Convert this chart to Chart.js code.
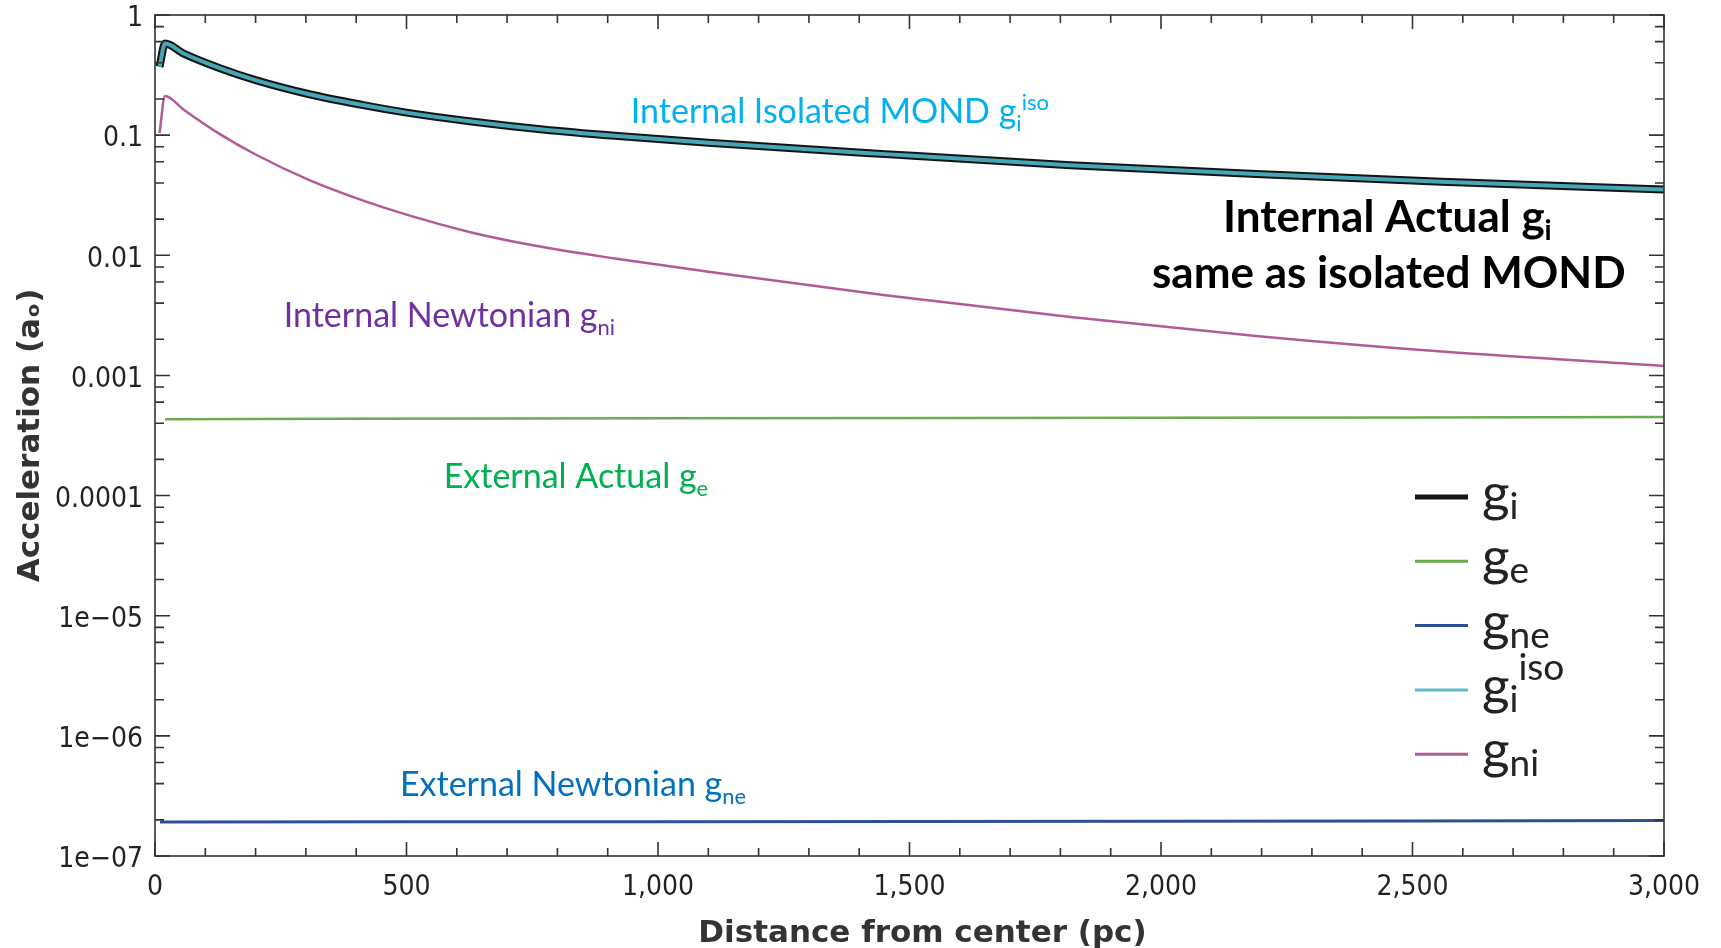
<!DOCTYPE html>
<html>
<head>
  <meta charset="utf-8">
  <title>Internal and external accelerations</title>
  <style>
    body { margin: 0; background: #fff; }
    #wrap { width: 1721px; height: 948px; position: relative; }
  </style>
</head>
<body>
  <div id="wrap"><canvas id="accel_chart"></canvas></div>

  <script src="https://cdn.jsdelivr.net/npm/chart.js@4/dist/chart.umd.min.js"></script>
  <script>
    // internal curves, distance from center in pc
    const distInternal = [9, 20, 57, 129, 200, 307, 414, 500, 629, 771, 914, 1100, 1452, 1820, 2189, 2558, 3000];
    const gInternal = [0.371, 0.578, 0.478, 0.361, 0.287, 0.219, 0.178, 0.154, 0.130, 0.1115, 0.0988, 0.0864, 0.0695, 0.0562, 0.0474, 0.041, 0.0352];
    const gIsolated = [0.371, 0.578, 0.478, 0.361, 0.287, 0.219, 0.178, 0.154, 0.130, 0.1115, 0.0988, 0.0864, 0.0695, 0.0562, 0.0474, 0.041, 0.0352];
    const gNewtonInternal = [0.104, 0.212, 0.163, 0.102, 0.069, 0.0422, 0.0285, 0.0218, 0.0155, 0.0117, 0.0094, 0.0073, 0.00465, 0.00307, 0.00213, 0.00158, 0.0012];

    // external field, nearly flat
    const distExternal = [20, 1000, 2000, 3000];
    const gExternal = [0.000432, 0.00044, 0.000445, 0.00045];
    const distExternalN = [10, 1500, 3000];
    const gNewtonExternal = [1.92e-7, 1.94e-7, 1.97e-7];

    // axes
    const xMajorValues = [0, 500, 1000, 1500, 2000, 2500, 3000];
    const xTickLabels = ["0", "500", "1,000", "1,500", "2,000", "2,500", "3,000"];
    const yMajorValues = [1e-7, 1e-6, 1e-5, 1e-4, 1e-3, 1e-2, 1e-1, 1];
    const yTickLabels = ["1e\u221207", "1e\u221206", "1e\u221205", "0.0001", "0.001", "0.01", "0.1", "1"];
    const yMinorSteps = [2, 4, 6, 8];
    const xTitle = "Distance from center (pc)";
    const yTitle = "Acceleration (a\u2092)";

    // legend text: g with subscript / superscript
    const legendSubs = [["i", ""], ["e", ""], ["ne", ""], ["i", "iso"], ["ni", ""]];

    // text labels placed in data units
    const notes = [
      {text: "Internal Isolated MOND g", sub: "i", sup: "iso", x: 946, y: 0.126, color: "#00b0f0"},
      {text: "Internal Newtonian g", sub: "ni", sup: "", x: 256, y: 0.00251, color: "#7030a0"},
      {text: "External Actual g", sub: "e", sup: "", x: 574, y: 1.16e-4, color: "#00b050"},
      {text: "External Newtonian g", sub: "ne", sup: "", x: 487, y: 3.18e-7, color: "#0070c0"},
      {text: "Internal Actual g", sub: "i", sup: "", x: 2450, y: 0.0156, color: "#000", bold: true},
      {text: "same as isolated MOND", sub: "", sup: "", x: 2453, y: 0.00534, color: "#000", bold: true}
    ];

    const textFont = 'Lato, "Open Sans", sans-serif';
    const tickFont = "'DejaVu Sans Condensed', 'DejaVu Sans', sans-serif";
    const titleFont = "bold 31px 'DejaVu Sans', sans-serif";

    function pairs(xs, ys) {
      return xs.map((v, i) => ({x: v, y: ys[i]}));
    }

    // base text followed by subscript then superscript
    function drawRich(ctx, x, y, text, sub, sup, size, smallSize, subDy, supDy, weight, color, center) {
      ctx.font = weight + " " + size + "px " + textFont;
      const w0 = ctx.measureText(text).width;
      ctx.font = weight + " " + smallSize + "px " + textFont;
      const w1 = sub ? ctx.measureText(sub).width : 0;
      const w2 = sup ? ctx.measureText(sup).width : 0;
      let left = center ? x - (w0 + w1 + w2) / 2 : x;
      ctx.fillStyle = color;
      ctx.textAlign = "left";
      ctx.textBaseline = "alphabetic";
      ctx.font = weight + " " + size + "px " + textFont;
      ctx.fillText(text, left, y);
      ctx.font = weight + " " + smallSize + "px " + textFont;
      if (sub) ctx.fillText(sub, left + w0, y + subDy);
      if (sup) ctx.fillText(sup, left + w0 + w1, y - supDy);
    }

    const isMajorY = (v) => yMajorValues.some(m => Math.abs(Math.log10(v) - Math.log10(m)) < 1e-6);

    // frame with inward ticks on all four sides, plus axis titles
    const frameTicks = {
      id: "frameTicks",
      afterDatasetsDraw(chart) {
        const {ctx, chartArea: a, scales: {x, y}} = chart;
        ctx.save();
        ctx.strokeStyle = "#333";
        ctx.lineWidth = 1.6;
        ctx.strokeRect(a.left, a.top, a.right - a.left, a.bottom - a.top);
        ctx.beginPath();
        x.ticks.forEach(t => {
          const px = x.getPixelForValue(t.value);
          const len = xMajorValues.includes(t.value) ? 14 : 8;
          ctx.moveTo(px, a.bottom); ctx.lineTo(px, a.bottom - len);
          ctx.moveTo(px, a.top); ctx.lineTo(px, a.top + len);
        });
        y.ticks.forEach(t => {
          const py = y.getPixelForValue(t.value);
          const len = isMajorY(t.value) ? 15 : 9;
          ctx.moveTo(a.left, py); ctx.lineTo(a.left + len, py);
          ctx.moveTo(a.right, py); ctx.lineTo(a.right - len, py);
        });
        ctx.stroke();

        ctx.fillStyle = "#333";
        ctx.font = titleFont;
        ctx.textAlign = "center";
        ctx.textBaseline = "middle";
        ctx.fillText(xTitle, (a.left + a.right) / 2 + 13, 934);
        ctx.translate(31, (a.top + a.bottom) / 2);
        ctx.rotate(-Math.PI / 2);
        ctx.fillText(yTitle, 0, 0);
        ctx.restore();
      }
    };

    const annotations = {
      id: "annotations",
      afterDatasetsDraw(chart) {
        const {ctx, scales: {x, y}} = chart;
        ctx.save();
        notes.forEach(n => {
          const px = x.getPixelForValue(n.x);
          const py = y.getPixelForValue(n.y);
          if (n.bold) {
            drawRich(ctx, px, py, n.text, n.sub, n.sup, 44, 28, 8, 16, "bold", n.color, true);
          } else {
            drawRich(ctx, px, py, n.text, n.sub, n.sup, 34, 22, 8, 13, "normal", n.color, false);
          }
        });
        ctx.restore();
      }
    };

    const sideLegend = {
      id: "sideLegend",
      afterDatasetsDraw(chart) {
        const {ctx, chartArea: a} = chart;
        const x0 = a.right - 249, x1 = a.right - 196;
        ctx.save();
        chart.data.datasets.forEach((ds, i) => {
          const rowY = a.top + 482 + i * 64.3;
          ctx.strokeStyle = ds.legendColor;
          ctx.lineWidth = i === 0 ? 5 : 3;
          ctx.beginPath();
          ctx.moveTo(x0, rowY);
          ctx.lineTo(x1, rowY);
          ctx.stroke();
          const [sub, sup] = legendSubs[i];
          drawRich(ctx, x1 + 14, rowY + 14, "g", sub, sup, 53, 37, 8, 24, "normal", "#222", false);
        });
        ctx.restore();
      }
    };

    new Chart("accel_chart", {
      type: "line",
      data: {
        datasets: [
          {label: "gi", data: pairs(distInternal, gInternal), borderColor: "#141414", legendColor: "#141414", borderWidth: 8, order: 1},
          {label: "ge", data: pairs(distExternal, gExternal), borderColor: "#6aab4e", legendColor: "#6aab4e", borderWidth: 2.5},
          {label: "gne", data: pairs(distExternalN, gNewtonExternal), borderColor: "#2e4f94", legendColor: "#2e4f94", borderWidth: 3},
          {label: "giso", data: pairs(distInternal, gIsolated), borderColor: "#45a6b6", legendColor: "#5bbccc", borderWidth: 4, order: -1},
          {label: "gni", data: pairs(distInternal, gNewtonInternal), borderColor: "#b25a98", legendColor: "#b25a98", borderWidth: 2.5}
        ]
      },
      options: {
        responsive: true,
        maintainAspectRatio: false,
        animation: false,
        layout: {padding: {left: 0, right: 57, top: 15, bottom: 0}},
        elements: {
          point: {radius: 0},
          line: {cubicInterpolationMode: "monotone", borderJoinStyle: "round", borderCapStyle: "butt"}
        },
        plugins: {
          legend: {display: false},
          tooltip: {enabled: false}
        },
        scales: {
          x: {
            type: "linear",
            min: 0,
            max: 3000,
            bounds: "data",
            grid: {display: false, drawTicks: false},
            border: {display: false},
            afterFit: (scale) => { scale.height = 92; },
            afterBuildTicks: (scale) => {
              const ticks = [];
              for (let v = 0; v <= 3000; v += 100) ticks.push({value: v});
              scale.ticks = ticks;
            },
            ticks: {
              autoSkip: false,
              maxRotation: 0,
              padding: 15,
              color: "#222",
              font: {family: tickFont, size: 28},
              callback: (value) => {
                const k = xMajorValues.indexOf(value);
                return k >= 0 ? xTickLabels[k] : "";
              }
            }
          },
          y: {
            type: "logarithmic",
            min: 1e-7,
            max: 1,
            bounds: "data",
            grid: {display: false, drawTicks: false},
            border: {display: false},
            // fixed width, and no extra room for the edge labels
            afterFit: (scale) => {
              scale.width = 155;
              scale.paddingTop = 0;
              scale.paddingBottom = 0;
            },
            afterBuildTicks: (scale) => {
              const ticks = [];
              yMajorValues.forEach((m, i) => {
                ticks.push({value: m});
                if (i < yMajorValues.length - 1) {
                  yMinorSteps.forEach(s => ticks.push({value: m * s}));
                }
              });
              scale.ticks = ticks;
            },
            ticks: {
              autoSkip: false,
              padding: 12,
              labelOffset: 4,
              color: "#222",
              font: {family: tickFont, size: 28},
              callback: (value) => {
                const k = yMajorValues.findIndex(m => Math.abs(Math.log10(value) - Math.log10(m)) < 1e-6);
                return k >= 0 ? yTickLabels[k] : "";
              }
            }
          }
        }
      },
      plugins: [frameTicks, annotations, sideLegend]
    });
  </script>
</body>
</html>
